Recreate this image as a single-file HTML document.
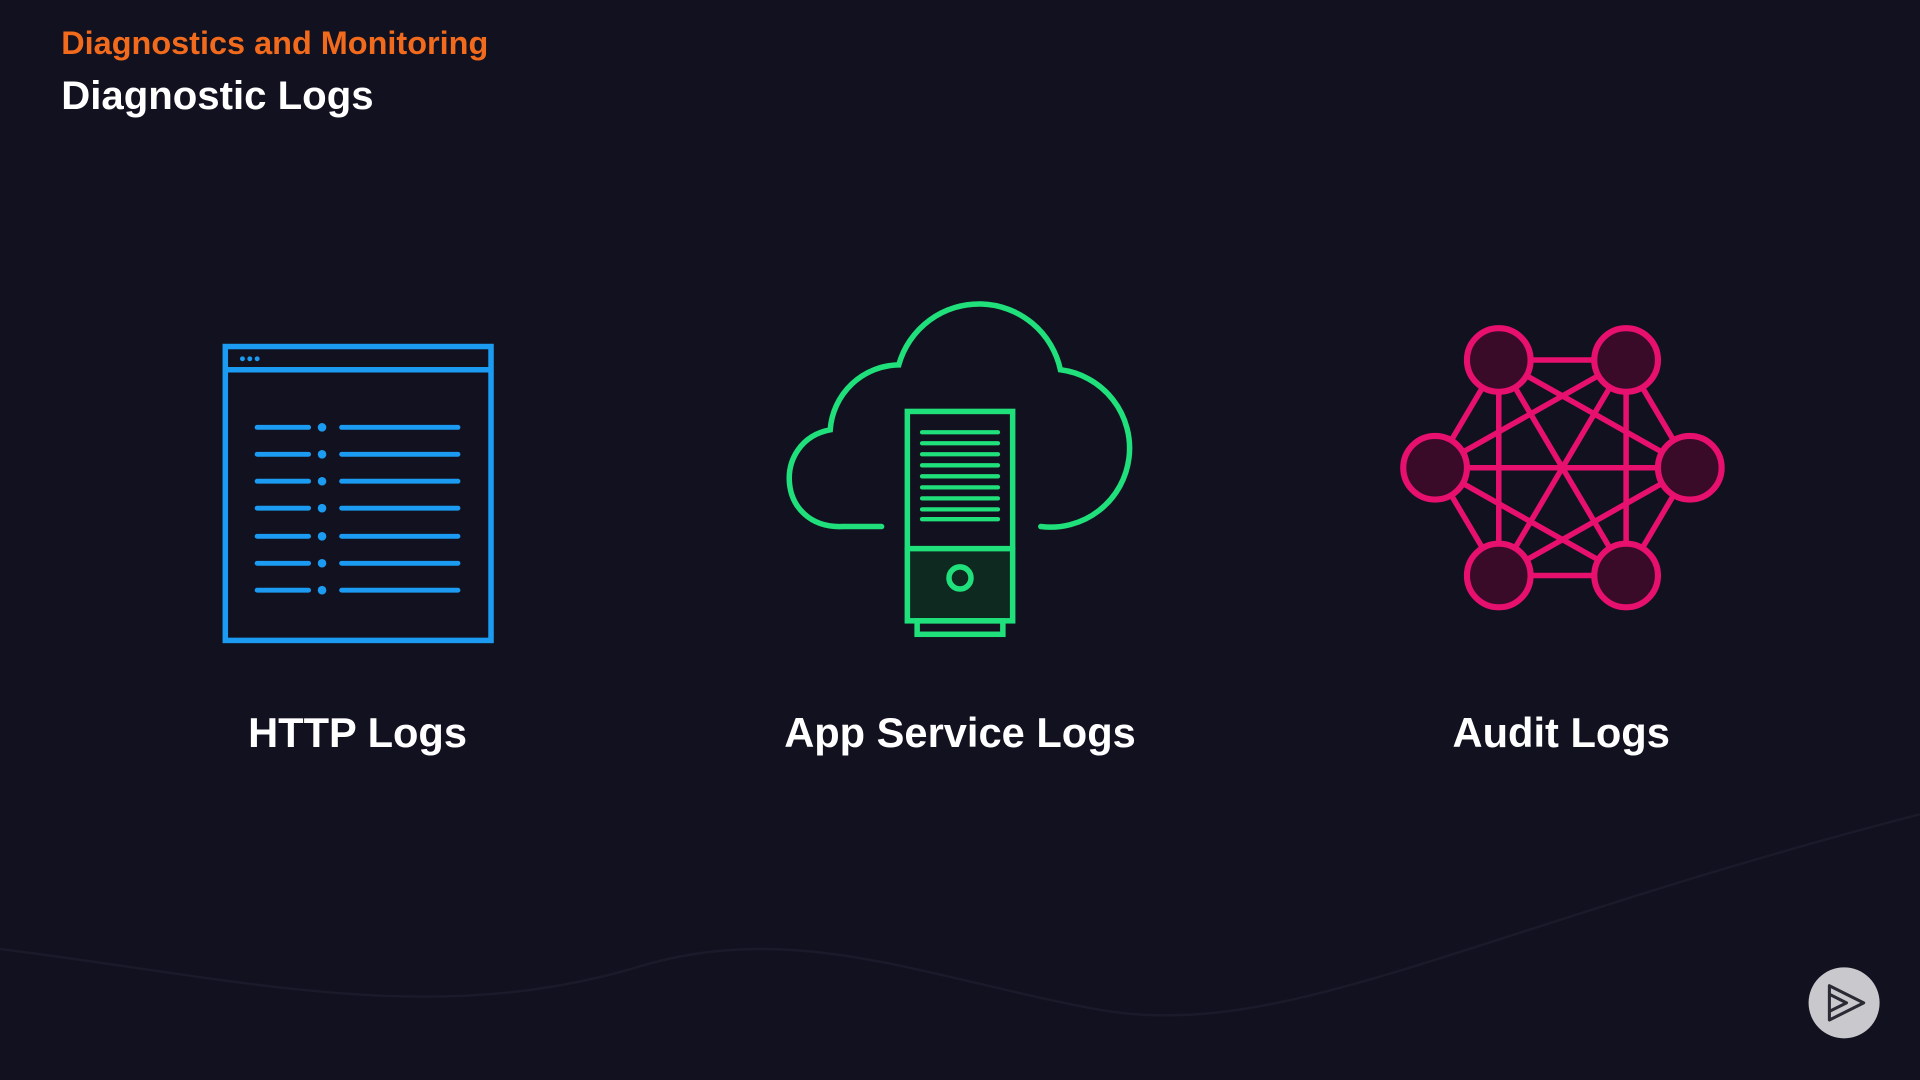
<!DOCTYPE html>
<html><head><meta charset="utf-8"><style>
html,body{margin:0;padding:0;background:#12111f;width:1920px;height:1080px;overflow:hidden}
svg{display:block}
text{font-family:"Liberation Sans",sans-serif;font-weight:bold}
</style></head><body>
<svg width="1920" height="1080" viewBox="0 0 1568 882" xmlns="http://www.w3.org/2000/svg">
<rect width="1568" height="882" fill="#12111f"/>
<path d="M0,775 C200,800 350,840 520,790 C650,750 760,800 900,825 C1050,850 1200,760 1568,665" fill="none" stroke="#1b1a2b" stroke-width="2"/>
<text x="50" y="44" font-size="26.5" fill="#f26b1d">Diagnostics and Monitoring</text>
<text x="50" y="89" font-size="32.8" fill="#ffffff">Diagnostic Logs</text>

<!-- HTTP icon -->
<g stroke="#1b9cf2" fill="none" stroke-width="4.5" stroke-linecap="round">
<rect x="184" y="283" width="217" height="240" stroke-linecap="butt"/>
<line x1="184" y1="302" x2="401" y2="302" stroke-linecap="butt"/>
<g stroke-width="4">
<line x1="210" y1="349" x2="252" y2="349"/><line x1="279" y1="349" x2="374" y2="349"/>
<line x1="210" y1="371" x2="252" y2="371"/><line x1="279" y1="371" x2="374" y2="371"/>
<line x1="210" y1="393" x2="252" y2="393"/><line x1="279" y1="393" x2="374" y2="393"/>
<line x1="210" y1="415" x2="252" y2="415"/><line x1="279" y1="415" x2="374" y2="415"/>
<line x1="210" y1="438" x2="252" y2="438"/><line x1="279" y1="438" x2="374" y2="438"/>
<line x1="210" y1="460" x2="252" y2="460"/><line x1="279" y1="460" x2="374" y2="460"/>
<line x1="210" y1="482" x2="252" y2="482"/><line x1="279" y1="482" x2="374" y2="482"/>
</g>
</g>
<g fill="#1b9cf2">
<circle cx="263" cy="349" r="3.5"/><circle cx="263" cy="371" r="3.5"/><circle cx="263" cy="393" r="3.5"/>
<circle cx="263" cy="415" r="3.5"/><circle cx="263" cy="438" r="3.5"/><circle cx="263" cy="460" r="3.5"/><circle cx="263" cy="482" r="3.5"/>
<circle cx="198" cy="293" r="2"/><circle cx="204" cy="293" r="2"/><circle cx="210" cy="293" r="2"/>
</g>

<!-- Cloud server -->
<g stroke="#1fe07a" fill="none" stroke-width="4.5" stroke-linecap="round">
<path d="M720,430 H688 C634,432 630,360 678,351 A57,57 0 0 1 734,298 A68,68 0 0 1 866,302 A64,64 0 0 1 850,430"/>
<rect x="741" y="448" width="86" height="59" fill="#0e2a20" stroke="none"/>
<rect x="741" y="336" width="86" height="171" stroke-linecap="butt"/>
<line x1="741" y1="448" x2="827" y2="448"/>
<rect x="749" y="507" width="70" height="11"/>
<circle cx="784" cy="472" r="9"/>
<g stroke-width="3.5">
<line x1="753" y1="353" x2="815" y2="353"/><line x1="753" y1="362" x2="815" y2="362"/><line x1="753" y1="371" x2="815" y2="371"/>
<line x1="753" y1="380" x2="815" y2="380"/><line x1="753" y1="389" x2="815" y2="389"/><line x1="753" y1="398" x2="815" y2="398"/>
<line x1="753" y1="407" x2="815" y2="407"/><line x1="753" y1="416" x2="815" y2="416"/><line x1="753" y1="424" x2="815" y2="424"/>
</g>
</g>

<!-- Network -->
<g stroke="#e8106e" stroke-width="4.5" fill="none">
<path d="M1224,294L1328,294M1224,294L1172,382M1224,294L1380,382M1224,294L1224,470M1224,294L1328,470
M1328,294L1172,382M1328,294L1380,382M1328,294L1224,470M1328,294L1328,470
M1172,382L1380,382M1172,382L1224,470M1172,382L1328,470
M1380,382L1224,470M1380,382L1328,470M1224,470L1328,470"/>
</g>
<g stroke="#e8106e" stroke-width="5" fill="#3a0b28">
<circle cx="1224" cy="294" r="26"/><circle cx="1328" cy="294" r="26"/>
<circle cx="1172" cy="382" r="26"/><circle cx="1380" cy="382" r="26"/>
<circle cx="1224" cy="470" r="26"/><circle cx="1328" cy="470" r="26"/>
</g>

<g font-size="34" fill="#ffffff" text-anchor="middle">
<text x="292" y="610">HTTP Logs</text>
<text x="784" y="610">App Service Logs</text>
<text x="1275" y="610">Audit Logs</text>
</g>

<circle cx="1506" cy="819" r="29" fill="#c9c9cd"/>
<g fill="none" stroke="#2a2a35" stroke-width="2.5" stroke-linejoin="round">
<path d="M1494,805 L1522,819 L1494,833 Z"/>
<path d="M1494,812 L1508,819 L1494,826"/>
</g>
</svg>
</body></html>
